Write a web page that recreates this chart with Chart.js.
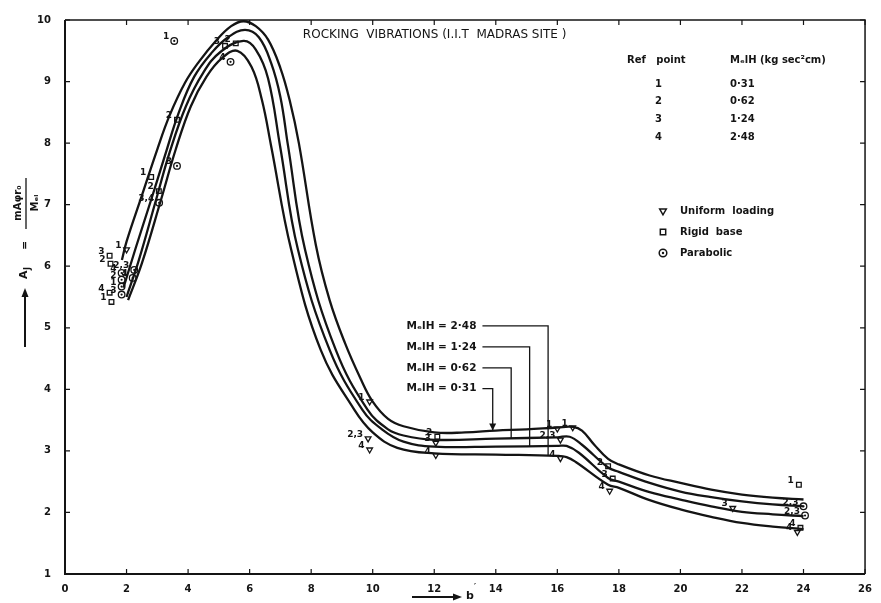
<!DOCTYPE html>
<html>
<head>
<meta charset="utf-8">
<script src="https://cdn.jsdelivr.net/npm/chart.js@4.4.0/dist/chart.umd.min.js"></script>
<style>
  html, body { margin: 0; padding: 0; background: #fff; }
  #wrap { width: 881px; height: 603px; }
</style>
</head>
<body>
<div id="wrap"><canvas id="myChart"></canvas></div>
<script>
// curves, one per MelH value (kg sec^2 cm)
const curveNames = ['0·31', '0·62', '1·24', '2·48'];

const curve1X = [1.85, 2.0, 2.5, 3.0, 3.4, 3.9, 4.35, 4.9, 5.4, 5.8, 6.2, 6.6, 7.0, 7.3, 7.6, 8.15, 8.6, 9.1, 9.6, 10.0, 10.5, 11.0, 12.0, 13.0, 14.0, 15.0, 16.0, 16.5, 16.8, 17.2, 17.65, 18.0, 19.0, 20.0, 21.0, 22.0, 23.0, 24.0];
const curve1Y = [6.1, 6.4, 7.15, 7.9, 8.45, 8.98, 9.32, 9.66, 9.9, 9.98, 9.9, 9.68, 9.22, 8.7, 8.0, 6.35, 5.45, 4.75, 4.18, 3.8, 3.52, 3.4, 3.3, 3.3, 3.33, 3.35, 3.38, 3.39, 3.33, 3.1, 2.87, 2.78, 2.6, 2.48, 2.37, 2.29, 2.24, 2.21];

const curve2X = [1.9, 2.3, 2.8, 3.25, 3.7, 4.2, 4.77, 5.3, 5.85, 6.3, 6.7, 7.0, 7.25, 7.8, 8.8, 9.83, 10.5, 11.0, 12.0, 14.0, 16.0, 16.4, 16.8, 17.65, 18.0, 19.0, 20.0, 21.0, 22.0, 23.0, 24.0];
const curve2Y = [5.65, 6.3, 7.08, 7.8, 8.5, 9.08, 9.47, 9.72, 9.84, 9.72, 9.3, 8.75, 7.95, 6.27, 4.64, 3.67, 3.35, 3.25, 3.18, 3.2, 3.22, 3.23, 3.1, 2.73, 2.66, 2.48, 2.34, 2.25, 2.18, 2.13, 2.1];

const curve3X = [2.0, 2.4, 2.96, 3.4, 3.93, 4.5, 5.05, 5.8, 6.2, 6.6, 6.99, 7.57, 8.6, 9.66, 10.3, 11.0, 12.0, 14.0, 16.0, 16.3, 16.7, 17.65, 18.0, 19.0, 20.0, 21.0, 22.0, 23.0, 24.0];
const curve3Y = [5.5, 6.1, 7.08, 7.85, 8.6, 9.15, 9.48, 9.66, 9.52, 9.05, 7.95, 6.27, 4.64, 3.67, 3.35, 3.15, 3.07, 3.07, 3.08, 3.08, 2.97, 2.56, 2.5, 2.33, 2.21, 2.1, 2.01, 1.97, 1.94];

const curve4X = [2.05, 2.5, 3.12, 3.6, 4.09, 4.6, 5.1, 5.6, 6.06, 6.4, 6.7, 7.35, 8.31, 9.4, 10.0, 10.8, 12.0, 14.0, 16.0, 16.3, 16.6, 17.65, 18.0, 19.0, 20.0, 21.0, 22.0, 23.0, 24.0];
const curve4Y = [5.45, 6.05, 7.08, 7.9, 8.6, 9.08, 9.38, 9.5, 9.24, 8.7, 7.95, 6.27, 4.64, 3.67, 3.3, 3.05, 2.96, 2.94, 2.92, 2.9, 2.82, 2.45, 2.4, 2.2, 2.05, 1.93, 1.83, 1.77, 1.73];

// measured points: uniform loading
const uniformX = [2.0, 9.9, 9.85, 9.9, 12.05, 12.05, 16.0, 16.5, 16.1, 16.1, 17.7, 21.7, 23.8];
const uniformY = [6.27, 3.8, 3.2, 3.02, 3.13, 2.93, 3.36, 3.38, 3.18, 2.88, 2.35, 2.07, 1.68];
const uniformRef = ['1', '1', '2,3', '4', '3', '4', '1', '1', '2,3', '4', '4', '3', '4'];

// rigid base
const rigidX = [1.45, 1.48, 1.45, 1.51, 3.64, 2.8, 3.05, 5.2, 5.55, 12.1, 17.65, 17.8, 23.85, 23.9];
const rigidY = [6.17, 6.04, 5.57, 5.42, 8.38, 7.45, 7.22, 9.58, 9.62, 3.23, 2.75, 2.55, 2.45, 1.75];
const rigidRef = ['3', '2', '4', '1', '2', '1', '2', '3', '2', '2', '2', '3', '1', '4'];

// parabolic
const paraX = [3.55, 3.64, 3.06, 1.84, 1.84, 1.84, 1.84, 2.25, 2.2, 5.38, 24.0, 24.05];
const paraY = [9.66, 7.63, 7.03, 5.89, 5.78, 5.67, 5.54, 5.94, 5.81, 9.32, 2.1, 1.95];
const paraRef = ['1', '3', '3,4', '4', '2', '1', '3', '2,3', '4', '4', '2,3', '2,3'];

// reference table
const tableRef = ['1', '2', '3', '4'];
const tableMel = ['0·31', '0·62', '1·24', '2·48'];

// MelH call-outs: text height, drop position, end on curve
const calloutText = ['MₑlH = 2·48', 'MₑlH = 1·24', 'MₑlH = 0·62', 'MₑlH = 0·31'];
const calloutY = [5.03, 4.69, 4.35, 4.01];
const calloutDropX = [15.7, 15.1, 14.5, 13.9];
const calloutEndY = [2.92, 3.07, 3.2, 3.33];

const xTicks = [0, 2, 4, 6, 8, 10, 12, 14, 16, 18, 20, 22, 24, 26];
const yTicks = [1, 2, 3, 4, 5, 6, 7, 8, 9, 10];

function pts(xs, ys) {
    return xs.map((x, i) => ({ x: x, y: ys[i] }));
}

const ink = '#141414';
const lineSet = (xs, ys, name) => ({
    type: 'line',
    label: 'MelH ' + name,
    data: pts(xs, ys),
    borderColor: ink,
    borderWidth: 2.3,
    pointRadius: 0,
    fill: false,
    tension: 0.4
});

const markSet = (xs, ys, refs, style, name, rot) => ({
    type: 'scatter',
    label: name,
    data: pts(xs, ys),
    refs: refs,
    pointStyle: style,
    rotation: rot || 0,
    pointRadius: 3.3,
    borderWidth: 1.3,
    borderColor: ink,
    backgroundColor: '#fff'
});

const drawing = {
    id: 'drawing',
    afterDatasetsDraw(chart) {
        const ctx = chart.ctx;
        const xs = chart.scales.x, ys = chart.scales.y;
        const a = chart.chartArea;
        const px = v => xs.getPixelForValue(v);
        const py = v => ys.getPixelForValue(v);
        ctx.save();
        ctx.strokeStyle = ink;
        ctx.fillStyle = ink;

        // frame
        ctx.lineWidth = 2;
        ctx.beginPath();
        ctx.moveTo(a.left, a.top); ctx.lineTo(a.left, a.bottom); ctx.lineTo(a.right, a.bottom);
        ctx.stroke();
        ctx.lineWidth = 1.5;
        ctx.beginPath();
        ctx.moveTo(a.left, a.top); ctx.lineTo(a.right, a.top); ctx.lineTo(a.right, a.bottom);
        ctx.stroke();

        // inward ticks
        ctx.lineWidth = 1.2;
        xs.ticks.forEach(t => {
            const x = px(t.value);
            ctx.beginPath();
            ctx.moveTo(x, a.bottom); ctx.lineTo(x, a.bottom - 5);
            ctx.moveTo(x, a.top); ctx.lineTo(x, a.top + 5);
            ctx.stroke();
        });
        ys.ticks.forEach(t => {
            const y = py(t.value);
            ctx.beginPath();
            ctx.moveTo(a.left, y); ctx.lineTo(a.left + 5, y);
            ctx.moveTo(a.right, y); ctx.lineTo(a.right - 5, y);
            ctx.stroke();
        });

        // dots inside parabolic circles
        chart.data.datasets.forEach((ds, i) => {
            if (ds.pointStyle !== 'circle') return;
            chart.getDatasetMeta(i).data.forEach(el => {
                ctx.beginPath();
                ctx.arc(el.x, el.y, 1.1, 0, Math.PI * 2);
                ctx.fill();
            });
        });

        // point labels
        ctx.font = 'bold 9px "DejaVu Sans"';
        ctx.textAlign = 'right';
        ctx.textBaseline = 'middle';
        chart.data.datasets.forEach((ds, i) => {
            if (!ds.refs) return;
            chart.getDatasetMeta(i).data.forEach((el, j) => {
                ctx.fillText(ds.refs[j], el.x - 5, el.y - 4);
            });
        });

        // title
        ctx.textAlign = 'left';
        ctx.font = '12px "DejaVu Sans"';
        ctx.fillText('ROCKING  VIBRATIONS (I.I.T  MADRAS SITE )', px(7.73), py(9.76));

        // reference table
        ctx.font = 'bold 10px "DejaVu Sans"';
        ctx.fillText('Ref   point', 627, py(9.34));
        ctx.fillText('MₑlH (kg sec²cm)', 730, py(9.34));
        tableRef.forEach((r, i) => {
            const y = py(8.96 - i * 0.29);
            ctx.fillText(r, 655, y);
            ctx.fillText(tableMel[i], 730, y);
        });

        // symbol legend
        const legText = ['Uniform  loading', 'Rigid  base', 'Parabolic'];
        const legStyle = ['triangle', 'rect', 'circle'];
        legText.forEach((t, i) => {
            const y = 211 + i * 21;
            ctx.fillStyle = '#fff';
            ctx.lineWidth = 1.5;
            Chart.helpers.drawPoint(ctx, {
                pointStyle: legStyle[i], radius: 3.8, borderWidth: 1.5,
                rotation: i === 0 ? 180 : 0
            }, 663, y);
            ctx.fillStyle = ink;
            if (i === 2) {
                ctx.beginPath();
                ctx.arc(663, y, 1.2, 0, Math.PI * 2);
                ctx.fill();
            }
            ctx.fillText(t, 680, y);
        });

        // MelH call-outs
        ctx.font = 'bold 10.5px "DejaVu Sans"';
        ctx.lineWidth = 1.3;
        calloutText.forEach((t, i) => {
            const y = py(calloutY[i]);
            ctx.fillText(t, px(11.1), y);
            const x0 = px(11.1) + ctx.measureText(t).width + 6;
            const xd = px(calloutDropX[i]);
            const ye = py(calloutEndY[i]);
            ctx.beginPath();
            ctx.moveTo(x0, y); ctx.lineTo(xd, y); ctx.lineTo(xd, ye);
            ctx.stroke();
            if (i === 3) {
                ctx.beginPath();
                ctx.moveTo(xd - 3.5, ye - 7); ctx.lineTo(xd + 3.5, ye - 7); ctx.lineTo(xd, ye);
                ctx.fill();
            }
        });

        // x axis title
        ctx.lineWidth = 2;
        ctx.beginPath();
        ctx.moveTo(412, 597); ctx.lineTo(455, 597);
        ctx.stroke();
        ctx.beginPath();
        ctx.moveTo(462, 597); ctx.lineTo(453, 593.5); ctx.lineTo(453, 600.5);
        ctx.fill();
        ctx.font = 'bold 11px "DejaVu Sans"';
        ctx.fillText('b', 466, 596);
        ctx.font = 'bold 8px "DejaVu Sans"';
        ctx.fillText('\u2032', 474, 588);

        // y axis title (rotated)
        ctx.translate(25, 0);
        ctx.rotate(-Math.PI / 2);
        ctx.lineWidth = 2;
        ctx.beginPath();
        ctx.moveTo(-347, 0); ctx.lineTo(-296, 0);
        ctx.stroke();
        ctx.beginPath();
        ctx.moveTo(-288, 0); ctx.lineTo(-297, -3.5); ctx.lineTo(-297, 3.5);
        ctx.fill();
        ctx.font = 'bold 11px "DejaVu Sans"';
        ctx.fillText('A', -279, -1);
        ctx.font = 'bold 8px "DejaVu Sans"';
        ctx.fillText('J', -270, 3);
        ctx.font = 'bold 11px "DejaVu Sans"';
        ctx.fillText('=', -250, 0);
        ctx.lineWidth = 1.3;
        ctx.beginPath();
        ctx.moveTo(-229, 1); ctx.lineTo(-178, 1);
        ctx.stroke();
        ctx.textAlign = 'center';
        ctx.font = 'bold 10px "DejaVu Sans"';
        ctx.fillText('mAφr₀', -203, -7);
        ctx.fillText('Mₑₗ', -203, 10);
        ctx.restore();
    }
};

const ctx = document.getElementById('myChart');
const myChart = new Chart(ctx, {
    type: 'scatter',
    data: {
        datasets: [
            lineSet(curve1X, curve1Y, curveNames[0]),
            lineSet(curve2X, curve2Y, curveNames[1]),
            lineSet(curve3X, curve3Y, curveNames[2]),
            lineSet(curve4X, curve4Y, curveNames[3]),
            markSet(uniformX, uniformY, uniformRef, 'triangle', 'Uniform loading', 180),
            markSet(rigidX, rigidY, rigidRef, 'rect', 'Rigid base'),
            markSet(paraX, paraY, paraRef, 'circle', 'Parabolic')
        ]
    },
    options: {
        responsive: true,
        maintainAspectRatio: false,
        animation: false,
        devicePixelRatio: 1,
        layout: { padding: { top: 17, right: 6, left: 0, bottom: 0 } },
        plugins: {
            legend: { display: false },
            tooltip: { enabled: false }
        },
        scales: {
            x: {
                type: 'linear',
                min: 0,
                max: 26,
                afterBuildTicks: s => { s.ticks = xTicks.map(v => ({ value: v })); },
                afterFit: s => { s.height = 29; },
                grid: { display: false, drawTicks: false },
                border: { display: false },
                ticks: { padding: 9, color: ink, font: { family: 'DejaVu Sans', size: 10, weight: 'bold' } }
            },
            y: {
                min: 1,
                max: 10,
                afterBuildTicks: s => { s.ticks = yTicks.map(v => ({ value: v })); },
                afterFit: s => { s.width = 65; },
                grid: { display: false, drawTicks: false },
                border: { display: false },
                ticks: { padding: 14, color: ink, font: { family: 'DejaVu Sans', size: 10, weight: 'bold' } }
            }
        }
    },
    plugins: [drawing]
});
</script>
</body>
</html>
